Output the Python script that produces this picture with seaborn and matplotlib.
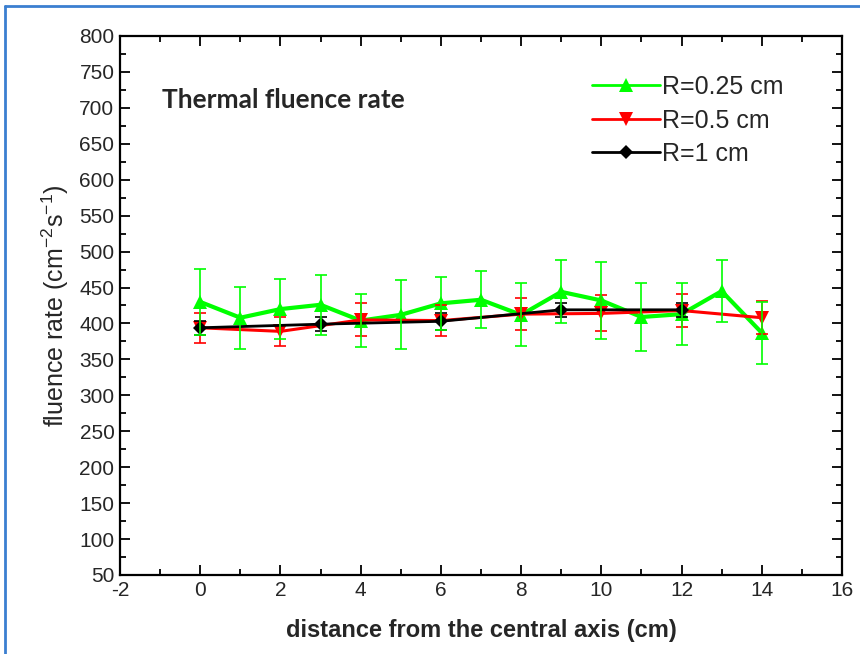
import numpy as np
import pandas as pd
import seaborn as sns
import matplotlib
matplotlib.use("Agg")
import matplotlib.pyplot as plt
from matplotlib.ticker import MultipleLocator
from matplotlib.lines import Line2D

# ---- data ----
x_025 = [0, 1, 2, 3, 4, 5, 6, 7, 8, 9, 10, 11, 12, 13, 14]
y_025 = [430, 408, 420, 426, 404, 412, 428, 433, 412, 444, 432, 409, 413, 445, 387]
e_025 = [46, 43, 42, 42, 37, 48, 37, 40, 44, 44, 53, 47, 43, 43, 43]

x_05 = [0, 2, 4, 6, 8, 10, 12, 14]
y_05 = [394, 389, 405, 404, 413, 414, 418, 408]
e_05 = [21, 20, 23, 21, 22, 25, 23, 23]

x_1 = [0, 3, 6, 9, 12]
y_1 = [394, 399, 403, 419, 419]
e_1 = [10, 10, 12, 10, 10]

labels = ["R=0.25 cm", "R=0.5 cm", "R=1 cm"]
colors = ["#00ff00", "#ff0000", "#000000"]
markers = ["^", "v", "D"]

sns.set_theme(style="ticks")
plt.rcParams["font.family"] = ["Liberation Sans", "DejaVu Sans"]
plt.rcParams["axes.unicode_minus"] = False
plt.rcParams["mathtext.fontset"] = "custom"
plt.rcParams["mathtext.rm"] = "Liberation Sans"
plt.rcParams["mathtext.it"] = "Liberation Sans"

fig = plt.figure(figsize=(8.6, 6.54), dpi=100)
ax = fig.add_axes([120 / 860, 1 - 575 / 654, 722 / 860, 539 / 654])

series = [(x_025, y_025, e_025), (x_05, y_05, e_05), (x_1, y_1, e_1)]
lws = [3.0, 2.2, 2.0]
msz = [10, 10, 7.5]
handles = []
for i, (xs, ys, es) in enumerate(series):
    df = pd.DataFrame({"x": xs, "y": ys})
    sns.lineplot(data=df, x="x", y="y", ax=ax, color=colors[i], lw=lws[i],
                 marker=markers[i], markersize=msz[i], markeredgewidth=0,
                 markerfacecolor=colors[i], zorder=3 + i, legend=False)
    handles.append(Line2D([], [], color=colors[i], lw=2.0, marker=markers[i],
                          markersize=msz[i] * 0.95, markeredgewidth=0))

for i, (xs, ys, es) in ((1, series[1]), (2, series[2]), (0, series[0])):
    ax.errorbar(xs, ys, yerr=es, fmt="none", ecolor=colors[i], elinewidth=1.2,
                capsize=4.5, capthick=1.2, zorder=7)

ax.set_xlim(-2, 16)
ax.set_ylim(50, 800)
ax.xaxis.set_major_locator(MultipleLocator(2))
ax.xaxis.set_minor_locator(MultipleLocator(1))
ax.yaxis.set_major_locator(MultipleLocator(50))
ax.yaxis.set_minor_locator(MultipleLocator(25))
ax.tick_params(which="both", direction="in", top=True, right=True, width=1.3,
               color="black")
ax.tick_params(which="major", length=7, labelsize=15, pad=4)
ax.tick_params(which="minor", length=4)
for s in ax.spines.values():
    s.set_linewidth(1.6)
    s.set_color("black")

ax.set_xlabel("distance from the central axis (cm)", fontsize=17,
              fontweight="bold", labelpad=14)
ax.set_ylabel(r"fluence rate (cm$^{-2}$s$^{-1}$)", fontsize=18)
ax.yaxis.set_label_coords(-0.068, 0.5)

fig.text(162 / 860, 1 - 100 / 654, "Thermal fluence rate", fontsize=19,
         fontweight="bold", family=["Lato", "DejaVu Sans"], va="center",
         ha="left")

ax.legend(handles, labels, loc="upper left",
          bbox_to_anchor=(592 / 860, 1 - 75 / 654),
          bbox_transform=fig.transFigure, frameon=False, fontsize=18,
          handlelength=2.7, handletextpad=0.12, labelspacing=0.38,
          borderpad=0, borderaxespad=0)

# blue frame edges (top and left)
fig.add_artist(Line2D([5 / 860, 1], [1 - 6 / 654, 1 - 6 / 654],
                      transform=fig.transFigure, color="#3b7fd0", lw=2))
fig.add_artist(Line2D([5 / 860, 5 / 860], [0, 1 - 6 / 654],
                      transform=fig.transFigure, color="#3b7fd0", lw=2))

fig.savefig("out.png", dpi=100)
